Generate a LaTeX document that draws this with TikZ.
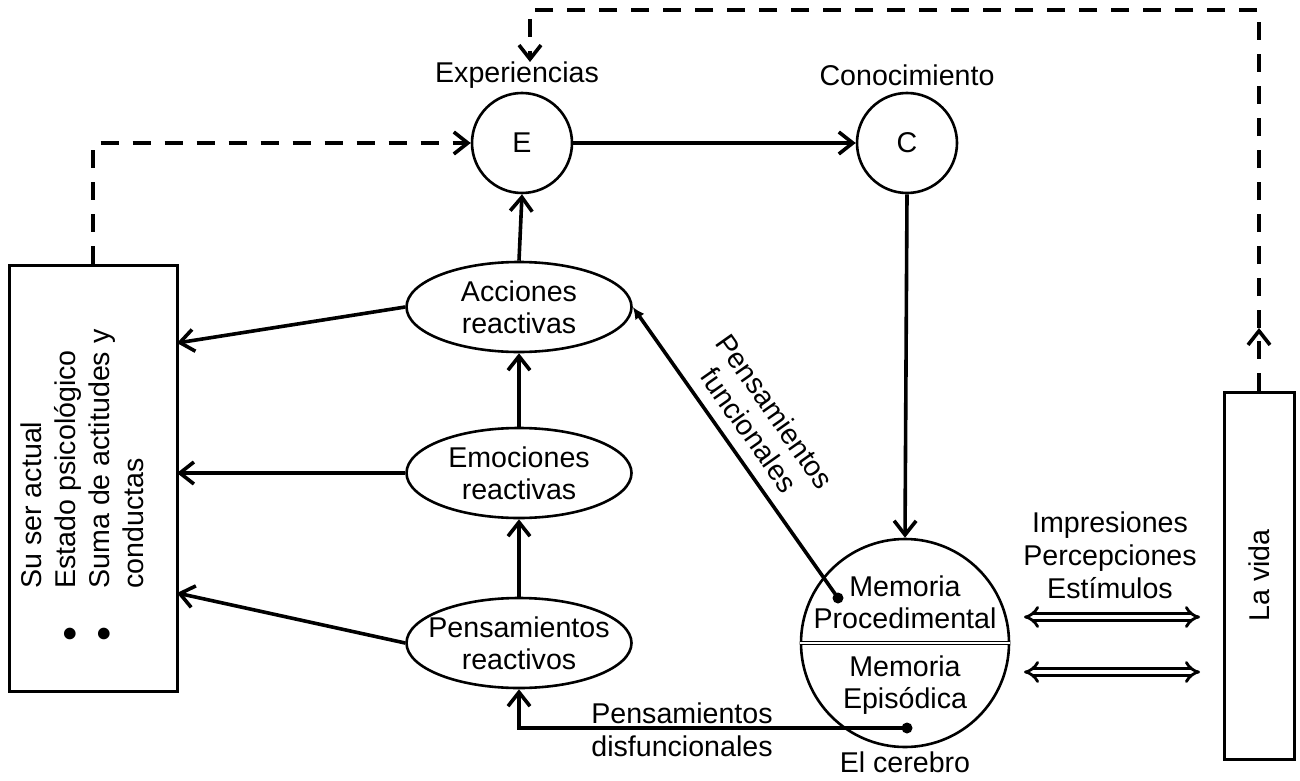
\documentclass[tikz,border=0pt]{standalone}
\usepackage{fontspec}
\setmainfont{Liberation Sans}
\usetikzlibrary{shapes.geometric,arrows.meta}
\newcommand{\bigdot}{\raisebox{-4.2pt}{\scalebox{1.5}{\textbullet}}}
\begin{document}
\begin{tikzpicture}[x=0.5pt,y=-0.5pt,
  txt/.style={font=\fontsize{14.3}{16}\selectfont, align=center, inner sep=0pt},
  circ/.style={circle, draw, line width=1.3pt, minimum size=50pt, inner sep=0pt, txt},
  oval/.style={ellipse, draw, line width=1.3pt, minimum width=112.5pt, minimum height=45pt, inner sep=0pt},
  panel/.style={rectangle, draw, line width=1.5pt, inner sep=0pt},
  blob/.style={circle, fill, minimum size=5.5pt, inner sep=0pt},
  vtip/.style={-{Straight Barb[length=7pt,width=11pt]}},
  flow/.style={line width=1.8pt, vtip},
  dsh/.style={line width=1.8pt, dash pattern=on 9pt off 7pt, vtip},
  dbl/.style={line width=1.4pt, double, double distance=2.2pt, {Implies}-{Implies}}
]
\path[use as bounding box] (0,0) rectangle (1300,781);

% experience and knowledge
\node[circ] (E) at (522,143) {E};
\node[circ] (C) at (907,143) {C};
\node[txt] (explbl) at (517,75) {Experiencias};
\node[txt] (conlbl) at (907,75) {Conocimiento};

% reactive chain
\node[oval, label={[txt]center:Acciones\\reactivas}] (acc) at (519,307) {};
\node[oval, label={[txt]center:Emociones\\reactivas}] (emo) at (519,473) {};
\node[oval, label={[txt]center:Pensamientos\\reactivos}] (pen) at (519,643) {};

% current self
\node[panel, minimum width=84pt, minimum height=213pt] (box) at (93,478) {};
\node[txt, rotate=90, anchor=west] (boxtxt) at (86,642) {%
  \renewcommand{\arraystretch}{1.06}%
  \begin{tabular}{@{}c@{\hspace{19pt}}l@{}}
   & Su ser actual\\
  \bigdot & Estado psicológico\\
  \bigdot & Suma de actitudes y\\
   & conductas
  \end{tabular}};

% life
\node[panel, minimum width=35pt, minimum height=183.5pt] (vida) at (1259,575.5) {};
\node[txt, rotate=90] (vidatxt) at (vida) {La vida};

% brain / memory
\node[circle, draw, line width=1.3pt, minimum size=104pt, inner sep=0pt] (mem) at (905,643) {};
\draw[line width=0.55pt, double, double distance=1pt] (mem.west) -- (mem.east);
\node[txt] (proc) at (905,602) {Memoria\\Procedimental};
\node[txt] (epi) at (905,685) {Memoria\\Episódica};
\node[txt] (cer) at (905,762) {El cerebro};
\node[blob] (p1) at (838,598) {};
\node[blob] (p2) at (907,728) {};

% stimuli
\node[txt, font=\fontsize{14.3}{16.5}\selectfont] (stim) at (1110,555) {Impresiones\\Percepciones\\Estímulos};
\coordinate (s1a) at (1024,617);
\coordinate (s1b) at (1200,617);
\coordinate (s2a) at (1024,672);
\coordinate (s2b) at (1200,672);
\draw[dbl] (s1a) -- (s1b);
\draw[dbl] (s2a) -- (s2b);

% solid connectors
\draw[flow] (E.east) -- (C.west);
\draw[flow] (C.south) -- (mem.north);
\draw[flow] (acc.north) -- (E.south);
\draw[flow] (emo.north) -- (acc.south);
\draw[flow] (pen.north) -- (emo.south);
\coordinate (b1) at (177,343);
\coordinate (b2) at (177,473);
\coordinate (b3) at (177,593);
\draw[flow] (acc.west) -- (b1);
\draw[flow] (emo.west) -- (b2);
\draw[flow] (pen.west) -- (b3);

\draw[line width=1.8pt, -{Latex[length=6pt,width=5.5pt]}] (p1.center) -- (acc.east)
  node[txt, pos=0.53, sloped, above=6pt] {Pensamientos\\funcionales};
\draw[flow] (p2.center) -| (pen.south)
  node[txt, pos=0.29, above=1pt] {Pensamientos}
  node[txt, pos=0.29, below=2.8pt] {disfuncionales};

% dashed feedback loops
\draw[dsh] (box.north) |- (E.west);
\coordinate (vmid) at (1259,328);
\coordinate (einto) at (530,62);
\draw[dsh] (vida.north) -- (vmid);
\draw[dsh] (vmid) -- (1259,10) -| (einto);
\end{tikzpicture}
\end{document}
